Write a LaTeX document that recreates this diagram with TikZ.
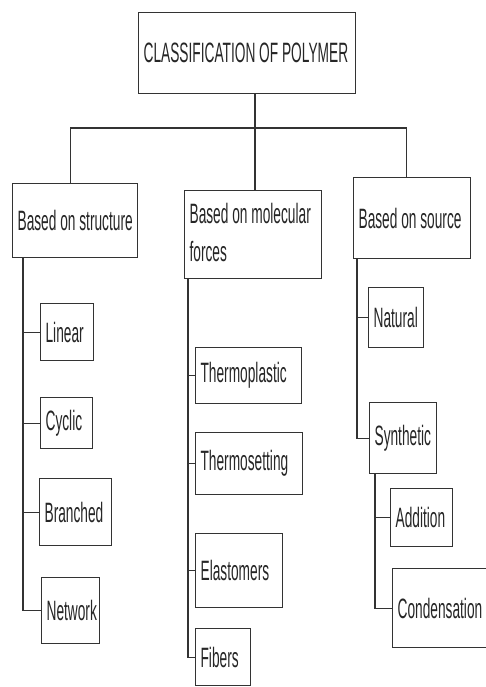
\documentclass[tikz,border=0pt]{standalone}
\usepackage{fontspec}
\newfontfamily\polyfont{Liberation Sans}[FakeStretch=0.49]
\newcommand\lbl[2]{\makebox[#1][l]{#2}}
\begin{document}
\begin{tikzpicture}[x=1pt,y=-1pt,
    cbox/.style={draw=black!80,line width=1.2pt,anchor=north west,inner xsep=5pt,inner ysep=0pt,
      text=black!85,font=\polyfont\fontsize{28}{38}\selectfont},
    link/.style={draw=black!80,line width=1.2pt}]
  \useasboundingbox (0,0) rectangle (485,687);
  % top
  \node[cbox,minimum height=81pt] (root) at (138,12) {\lbl{207pt}{CLASSIFICATION OF POLYMER}};
  \node[cbox,minimum height=74pt] (struct) at (12,183) {\lbl{115pt}{Based on structure}};
  \node[cbox,minimum height=88pt] (forces) at (184,190)
    {\lbl{127pt}{\begin{tabular}{@{}l@{}}Based on molecular\\forces\end{tabular}}};
  \node[cbox,minimum height=81pt] (source) at (353,177) {\lbl{107pt}{Based on source}};
  % based on structure
  \node[cbox,minimum height=57pt] (linear) at (40,303) {\lbl{43pt}{Linear}};
  \node[cbox,minimum height=51pt] (cyclic) at (40,397) {\lbl{42pt}{Cyclic}};
  \node[cbox,minimum height=67pt] (branched) at (39,478) {\lbl{62pt}{Branched}};
  \node[cbox,minimum height=66pt] (network) at (41,577) {\lbl{48pt}{Network}};
  % based on molecular forces
  \node[cbox,minimum height=56pt] (thermoplastic) at (195,347) {\lbl{96pt}{Thermoplastic}};
  \node[cbox,minimum height=62pt] (thermosetting) at (195,432) {\lbl{97pt}{Thermosetting}};
  \node[cbox,minimum height=74pt] (elastomers) at (195,533) {\lbl{77pt}{Elastomers}};
  \node[cbox,minimum height=57pt] (fibers) at (195,628) {\lbl{45pt}{Fibers}};
  % based on source
  \node[cbox,minimum height=60pt] (natural) at (368,287) {\lbl{45pt}{Natural}};
  \node[cbox,minimum height=71pt] (synthetic) at (369,402) {\lbl{57pt}{Synthetic}};
  \node[cbox,minimum height=58pt] (addition) at (390,488) {\lbl{52pt}{Addition}};
  \node[cbox,minimum height=79pt] (condensation) at (392,568) {\lbl{92pt}{Condensation}};
  % connectors
  \coordinate (bus) at (255,128);
  \draw[link] (bus |- root.south) -- (bus);
  \draw[link] ([xshift=-4.5pt]struct.north) |- (bus) -| ([xshift=-5.5pt]source.north);
  \draw[link] (bus) -- (bus |- forces.north);
  \draw[link] ([xshift=11pt]struct.south west) |- (network.west);
  \foreach \c in {linear,cyclic,branched}
    \draw[link] ([xshift=11pt]struct.south west |- \c.west) -- (\c.west);
  \draw[link] ([xshift=4pt]forces.south west) |- (fibers.west);
  \foreach \c in {thermoplastic,thermosetting,elastomers}
    \draw[link] ([xshift=4pt]forces.south west |- \c.west) -- (\c.west);
  \draw[link] ([xshift=4pt]source.south west) |- (synthetic.west);
  \draw[link] ([xshift=4pt]source.south west |- natural.west) -- (natural.west);
  \draw[link] ([xshift=6pt]synthetic.south west) |- (condensation.west);
  \draw[link] ([xshift=6pt]synthetic.south west |- addition.west) -- (addition.west);
\end{tikzpicture}
\end{document}
